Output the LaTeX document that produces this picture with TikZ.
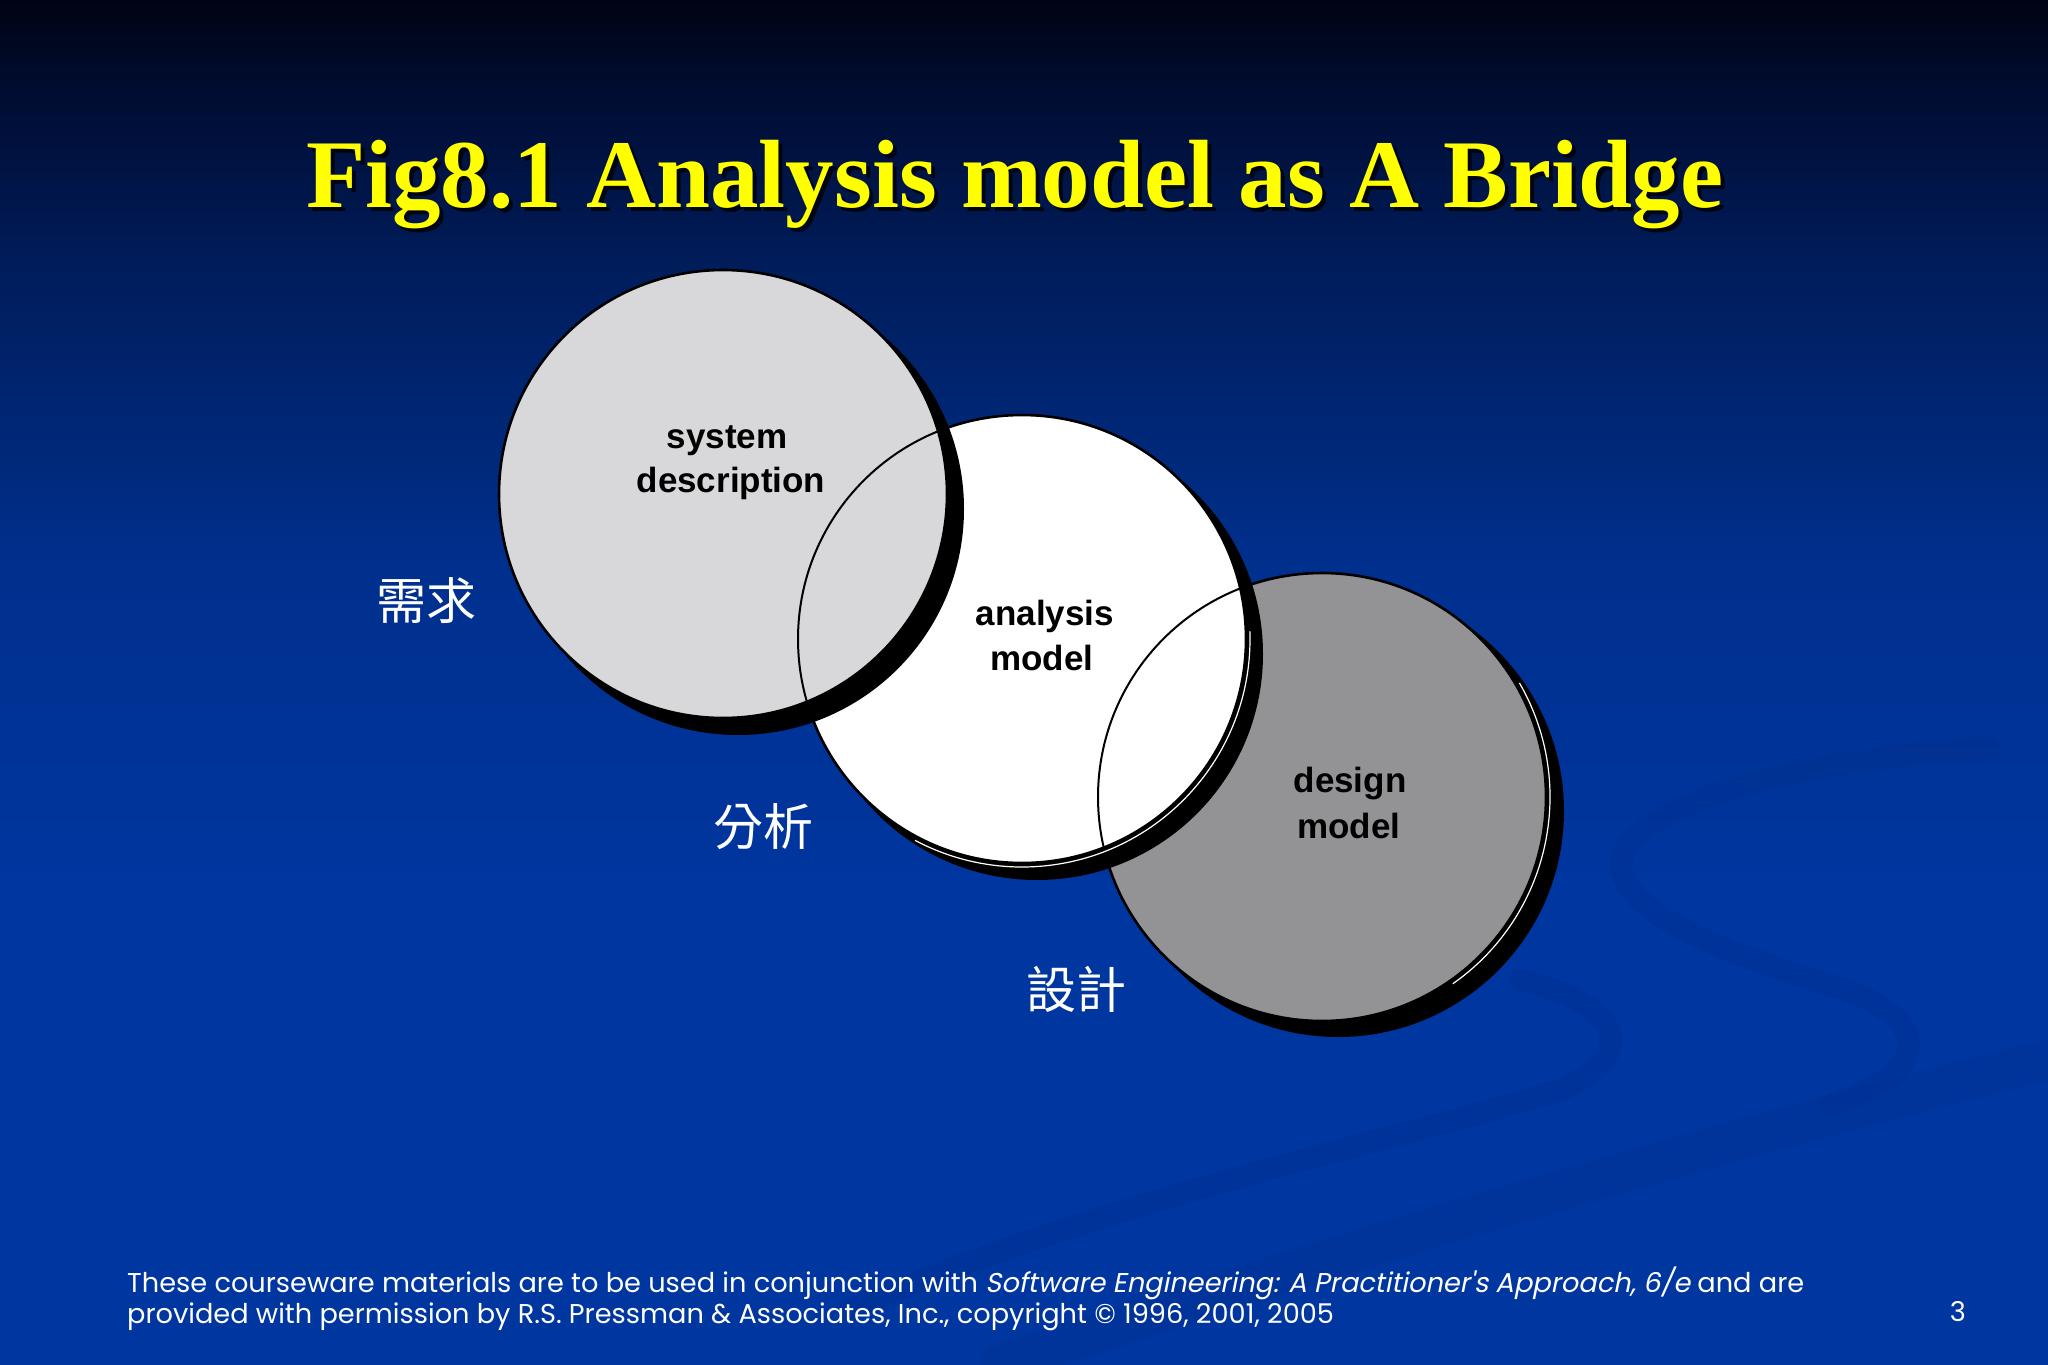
\documentclass[tikz,border=0pt]{standalone}
\usepackage{fontspec}
\newfontfamily\titlefont{Liberation Serif}
\newfontfamily\labelfont{Liberation Sans}
\newfontfamily\cjkfont{Noto Sans CJK TC}
\newfontfamily\footfont{Poppins}[AutoFakeSlant=0.2]
\definecolor{bgtop}{HTML}{000313}
\definecolor{bgA}{HTML}{000E36}
\definecolor{bgB}{HTML}{001D5C}
\definecolor{bgC}{HTML}{00308E}
\definecolor{bgbot}{HTML}{0036A0}
\definecolor{cone}{HTML}{D8D8DA}
\definecolor{cthree}{HTML}{939295}
\definecolor{titley}{HTML}{FFFF00}
\definecolor{swirl}{HTML}{00287E}
\pgfdeclareverticalshading{slidebg}{100bp}{color(0bp)=(bgbot); color(25bp)=(bgbot); color(42bp)=(bgbot); color(54bp)=(bgC); color(65bp)=(bgB); color(71bp)=(bgA); color(75bp)=(bgtop); color(100bp)=(bgtop)}
\tikzset{
  disc/.style={circle, minimum size=448pt, inner sep=0pt, draw=black, line width=2.6pt},
  discshadow/.style={circle, minimum size=452pt, inner sep=0pt, fill=black},
  backline/.style={draw=black, line width=2pt},
  gleam/.style={draw=white, line width=1.2pt},
  swirlline/.style={draw=swirl, line width=22pt, opacity=0.16, line cap=round},
  lbl/.style={font=\labelfont\bfseries\fontsize{35}{40}\selectfont, text=black, inner sep=0pt},
  cjk/.style={font=\cjkfont\fontsize{50}{56}\selectfont, text=white, inner sep=0pt},
  titletext/.style={font=\titlefont\bfseries\fontsize{97}{110}\selectfont, inner sep=0pt},
  foot/.style={font=\footfont\fontsize{27.2}{31}\selectfont, text=white, inner sep=0pt},
}
\begin{document}
\begin{tikzpicture}[x=1pt,y=-1pt]
\useasboundingbox (0,0) rectangle (2048,1365);
\shade[shading=slidebg] (0,0) rectangle (2048,1365);
% background swirls
\draw[swirlline] (1990,748) .. controls (1850,755) and (1660,790) .. (1625,850) .. controls (1600,900) and (1700,945) .. (1830,985) .. controls (1930,1015) and (1940,1070) .. (1830,1105);
\draw[swirlline] (1520,980) .. controls (1610,1000) and (1650,1050) .. (1560,1090) .. controls (1400,1140) and (1100,1200) .. (850,1310);
\draw[swirlline, line width=40pt, opacity=0.12] (2048,1060) .. controls (1800,1120) and (1400,1230) .. (1000,1365);
% title
\node[titletext, text=black, opacity=0.75, anchor=base west] (titleshadow) at (310,211) {Fig8.1 Analysis model as A Bridge};
\node[titletext, text=titley, anchor=base west] (title) at (306,207) {Fig8.1 Analysis model as A Bridge};
% design model circle
\node[discshadow] (s3) at (1338,811) {};
\node[disc, fill=cthree] (c3) at (1322,797) {};
\draw[gleam] ([shift={(30:228pt)}]c3.center) arc[start angle=30, end angle=-55, radius=228pt];
% analysis model circle
\node[discshadow] (s2) at (1037,654) {};
\node[disc, fill=white] (c2) at (1022,639) {};
\draw[gleam] ([shift={(2:228pt)}]c2.center) arc[start angle=2, end angle=-118, radius=228pt];
\begin{scope}
  \clip (c2.center) circle (223pt);
  \draw[backline] (c3.center) circle (224pt);
\end{scope}
% system description circle
\node[discshadow] (s1) at (738,509) {};
\node[disc, fill=cone] (c1) at (723,494) {};
\begin{scope}
  \clip (c1.center) circle (223pt);
  \draw[backline] (c2.center) circle (224pt);
\end{scope}
% circle labels
\node[lbl, anchor=base] (l1a) at (727,448) {system};
\node[lbl, anchor=base] (l1b) at (731,492) {description};
\node[lbl, anchor=base] (l2a) at (1045,625) {analysis};
\node[lbl, anchor=base] (l2b) at (1042,670) {model};
\node[lbl, anchor=base] (l3a) at (1350,792) {design};
\node[lbl, anchor=base] (l3b) at (1349,838) {model};
% CJK labels
\node[cjk] (req) at (426,601) {需求};
\node[cjk] (ana) at (763,827) {分析};
\node[cjk] (des) at (1076,989) {設計};
% footer
\node[foot, anchor=base west] (f1) at (127,1292) {These courseware materials are to be used in conjunction with \textit{Software Engineering: A Practitioner's Approach, 6/e} and are};
\node[foot, anchor=base west] (f2) at (127,1323) {provided with permission by R.S. Pressman \& Associates, Inc., copyright © 1996, 2001, 2005};
\node[foot, anchor=base east] (pg) at (1966,1321) {3};
\end{tikzpicture}
\end{document}
